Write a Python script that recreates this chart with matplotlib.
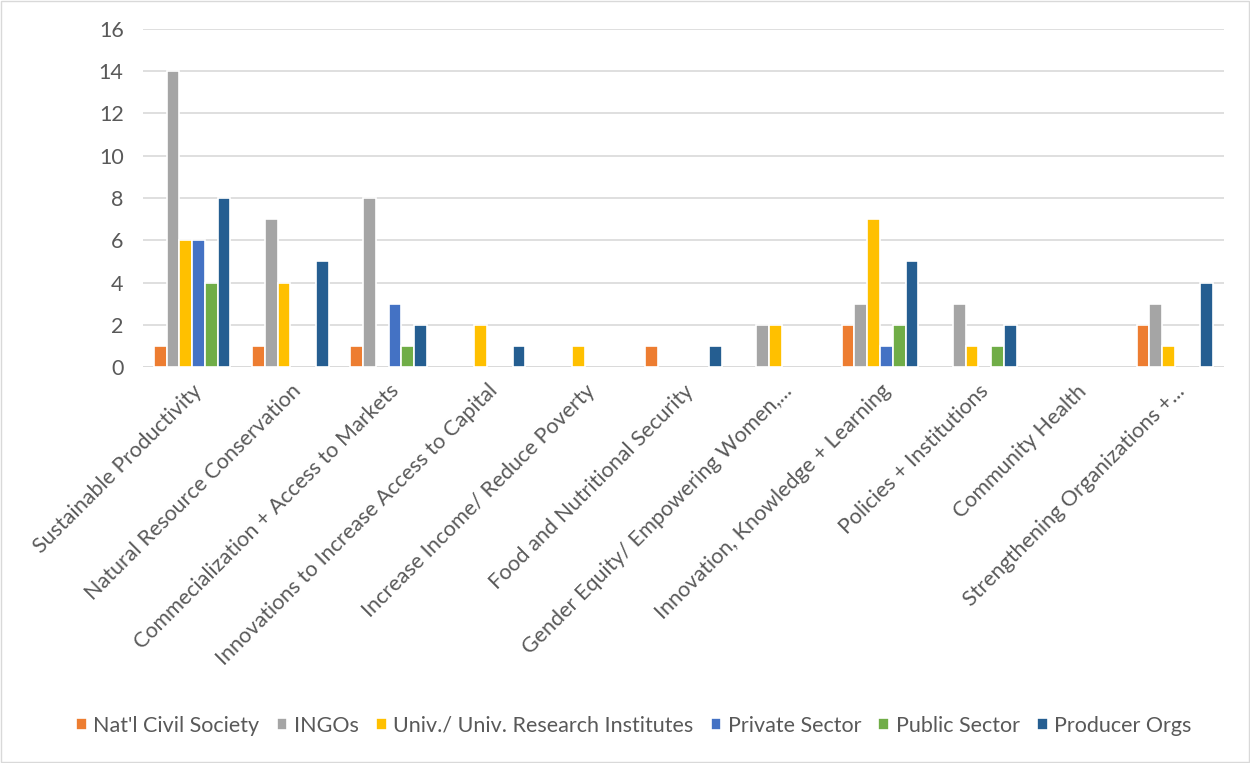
import numpy as np
import matplotlib.pyplot as plt
from matplotlib.patches import Rectangle

categories = [
    "Sustainable Productivity",
    "Natural Resource Conservation",
    "Commecialization + Access to Markets",
    "Innovations to Increase Access to Capital",
    "Increase Income/ Reduce Poverty",
    "Food and Nutritional Security",
    "Gender Equity/ Empowering Women,...",
    "Innovation, Knowledge + Learning",
    "Policies + Institutions",
    "Community Health",
    "Strengthening Organizations +...",
]

natl_civil_society = [1, 1, 1, 0, 0, 1, 0, 2, 0, 0, 2]
ingos = [14, 7, 8, 0, 0, 0, 2, 3, 3, 0, 3]
univ_research = [6, 4, 0, 2, 1, 0, 2, 7, 1, 0, 1]
private_sector = [6, 0, 3, 0, 0, 0, 0, 1, 0, 0, 0]
public_sector = [4, 0, 1, 0, 0, 0, 0, 2, 1, 0, 0]
producer_orgs = [8, 5, 2, 1, 0, 1, 0, 5, 2, 0, 4]

series = [
    ("Nat'l Civil Society", natl_civil_society, "#ED7D31"),
    ("INGOs", ingos, "#A5A5A5"),
    ("Univ./ Univ. Research Institutes", univ_research, "#FFC000"),
    ("Private Sector", private_sector, "#4472C4"),
    ("Public Sector", public_sector, "#70AD47"),
    ("Producer Orgs", producer_orgs, "#255E91"),
]

plt.rcParams["font.family"] = ["Lato", "DejaVu Sans"]
text_color = "#595959"
fsize = 15.5

fig = plt.figure(figsize=(12.5, 7.63), dpi=100)
ax = fig.add_axes([0.1144, 0.519, 0.8648, 0.443])

x = np.arange(len(categories))
step = 0.13
for i, (name, vals, color) in enumerate(series):
    v = np.array(vals, dtype=float)
    v[v == 0] = np.nan  # empty groups show no bar
    ax.bar(x + (i - 2.5) * step, v, width=step, color=color,
           edgecolor="white", linewidth=1.2, label=name, zorder=3)

ax.set_xlim(-0.5, len(categories) - 0.5)
ax.set_ylim(0, 16)
ax.set_yticks(range(0, 17, 2))
ax.yaxis.grid(True, color="#D9D9D9", linewidth=1.2, zorder=0)
ax.set_axisbelow(True)
for s in ax.spines.values():
    s.set_visible(False)
ax.axhline(0, color="#D9D9D9", linewidth=1.2, zorder=1)
ax.tick_params(axis="both", length=0, colors=text_color, labelsize=fsize)
ax.tick_params(axis="y", pad=14)
ax.set_xticks(x)
ax.set_xticklabels(categories, rotation=45, ha="right", va="top",
                   rotation_mode="anchor")
ax.tick_params(axis="x", pad=10)

fig.legend(*ax.get_legend_handles_labels(), loc="center",
           bbox_to_anchor=(0.507, 0.049), ncol=6, frameon=False,
           fontsize=fsize, handlelength=0.5, handleheight=0.5,
           handletextpad=0.3, columnspacing=0.8, labelcolor=text_color)

fig.patches.append(Rectangle((0.001, 0.001), 0.998, 0.998, transform=fig.transFigure,
                             fill=False, edgecolor="#D9D9D9", linewidth=1.0))

fig.savefig("out.png", dpi=100, facecolor="white")
